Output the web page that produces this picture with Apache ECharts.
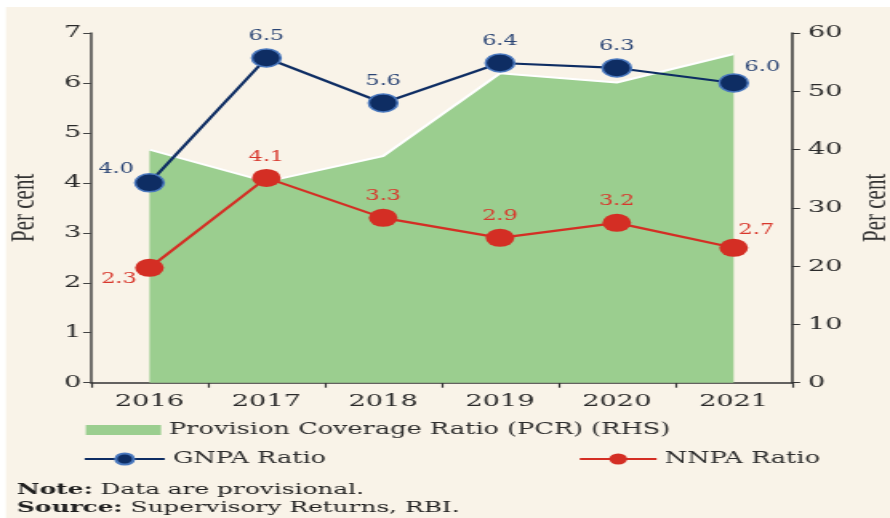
<!DOCTYPE html>
<html>
<head>
<meta charset="utf-8">
<title>GNPA, NNPA and PCR</title>
<script src="https://cdn.jsdelivr.net/npm/echarts@6/dist/echarts.min.js"></script>
<style>
  html, body { margin: 0; padding: 0; background: #ffffff; overflow: hidden; }
  /* the reference is stretched sideways, so the chart is drawn narrow and widened */
  #chart { position: absolute; left: 0; top: 0; width: 556px; height: 518px;
           transform: scaleX(1.6007); transform-origin: 0 0; }
</style>
</head>
<body>
<div id="chart"></div>
<script>
var years = ['2016', '2017', '2018', '2019', '2020', '2021'];
var gnpa = [4.0, 6.5, 5.6, 6.4, 6.3, 6.0];
var nnpa = [2.3, 4.1, 3.3, 2.9, 3.2, 2.7];
var pcr = [40.0, 34.5, 38.9, 53.1, 51.5, 56.4];

var serif = 'DejaVu Serif';
var navy = '#0e2d63', red = '#d42e24', green = '#9bce8f';

// labels at both ends sit beside the marker, the rest on top
function withLabels(vals, firstOff, lastOff, firstDist, lastDist) {
	return vals.map(function (v, i) {
		if (i == 0) return { value: v, label: { position: 'left', distance: firstDist, offset: firstOff } };
		if (i == vals.length - 1) return { value: v, label: { position: 'right', distance: lastDist, offset: lastOff } };
		return v;
	});
}

var myChart = echarts.init(document.getElementById('chart'));
var option = {
	backgroundColor: '#f9f3e8',
	animation: false,
	grid: { left: 56.9, right: 61.2, top: 33, bottom: 135.3, containLabel: false, outerBoundsMode: 'none' },
	legend: [
		{
			data: [{ name: 'Provision Coverage Ratio (PCR) (RHS)', icon: 'rect' }],
			left: 53.6, top: 422, padding: 0, itemWidth: 47, itemHeight: 10,
			itemStyle: { borderWidth: 0 },
			textStyle: { fontFamily: serif, fontSize: 16, color: '#2e2e2e' }
		},
		{
			data: ['GNPA Ratio'],
			left: 51.9, top: 451, padding: 0, itemWidth: 50, itemHeight: 14,
			textStyle: { fontFamily: serif, fontSize: 16, color: '#2e2e2e' }
		},
		{
			data: ['NNPA Ratio'],
			left: 361.2, top: 451, padding: 0, itemWidth: 48, itemHeight: 14,
			textStyle: { fontFamily: serif, fontSize: 16, color: '#2e2e2e' }
		}
	],
	xAxis: {
		type: 'category',
		data: years,
		boundaryGap: true,
		axisLine: { lineStyle: { color: '#333', width: 1.5 } },
		axisTick: { show: true, length: 5, lineStyle: { color: '#333', width: 1.2 } },
		axisLabel: { fontFamily: serif, fontSize: 17, color: '#2a2a2a', margin: 10 }
	},
	yAxis: [
		{
			type: 'value', min: 0, max: 7, interval: 1,
			name: 'Per cent', nameLocation: 'middle', nameRotate: 90, nameGap: 31,
			nameTextStyle: { fontFamily: 'Liberation Serif', fontSize: 21, color: '#333' },
			axisLine: { show: true, lineStyle: { color: '#444', width: 1.5 } },
			axisTick: { show: true, length: 5, lineStyle: { color: '#444' } },
			axisLabel: { fontFamily: serif, fontSize: 17, color: '#2a2a2a', margin: 6 },
			splitLine: { show: false }
		},
		{
			type: 'value', min: 0, max: 60, interval: 10, position: 'right',
			name: 'Per cent', nameLocation: 'middle', nameRotate: 90, nameGap: 40,
			nameTextStyle: { fontFamily: 'Liberation Serif', fontSize: 21, color: '#333' },
			axisLine: { show: true, lineStyle: { color: '#333', width: 1.5 } },
			axisTick: { show: true, length: 5, lineStyle: { color: '#333' } },
			axisLabel: { fontFamily: serif, fontSize: 17, color: '#2a2a2a', margin: 10 },
			splitLine: { show: false }
		}
	],
	series: [
		{
			name: 'Provision Coverage Ratio (PCR) (RHS)',
			type: 'line',
			yAxisIndex: 1,
			data: pcr,
			symbol: 'none',
			z: 1,
			itemStyle: { color: green },
			lineStyle: { color: '#ffffff', width: 2 },
			areaStyle: { color: green, opacity: 1 }
		},
		{
			name: 'GNPA Ratio',
			type: 'line',
			yAxisIndex: 0,
			data: withLabels(gnpa, [0, -14], [0, -16], 0, -3),
			symbol: 'circle',
			symbolSize: 18,
			z: 3,
			lineStyle: { color: navy, width: 2.2 },
			itemStyle: { color: navy, borderColor: '#4a78be', borderWidth: 1.5 },
			label: {
				show: true, position: 'top', distance: 5,
				fontFamily: serif, fontSize: 14, color: '#2b4575',
				formatter: function (p) { return p.value.toFixed(1); }
			}
		},
		{
			name: 'NNPA Ratio',
			type: 'line',
			yAxisIndex: 0,
			data: withLabels(nnpa, [0, 12], [0, -17], -1, -6),
			symbol: 'circle',
			symbolSize: 18,
			z: 3,
			lineStyle: { color: red, width: 2.2 },
			itemStyle: { color: red },
			label: {
				show: true, position: 'top', distance: 5,
				fontFamily: serif, fontSize: 14, color: '#d8372c',
				formatter: function (p) { return p.value.toFixed(1); }
			}
		}
	],
	graphic: [
		{ type: 'rect', left: 0, top: 0, shape: { width: 556, height: 7 }, style: { fill: '#ffffff' } },
		{ type: 'rect', left: 0, top: 0, shape: { width: 3.7, height: 518 }, style: { fill: '#ffffff' } },
		{
			type: 'text', left: 10.6, top: 482,
			style: {
				text: '{b|Note:} Data are provisional.',
				font: '15.5px "DejaVu Serif"', fill: '#1f1f1f',
				rich: { b: { fontWeight: 'bold', fontFamily: serif, fontSize: 15.5, fill: '#1f1f1f' } }
			}
		},
		{
			type: 'text', left: 10.6, top: 500,
			style: {
				text: '{b|Source:} Supervisory Returns, RBI.',
				font: '15.5px "DejaVu Serif"', fill: '#1f1f1f',
				rich: { b: { fontWeight: 'bold', fontFamily: serif, fontSize: 15.5, fill: '#1f1f1f' } }
			}
		}
	]
};
myChart.setOption(option);
</script>
</body>
</html>
